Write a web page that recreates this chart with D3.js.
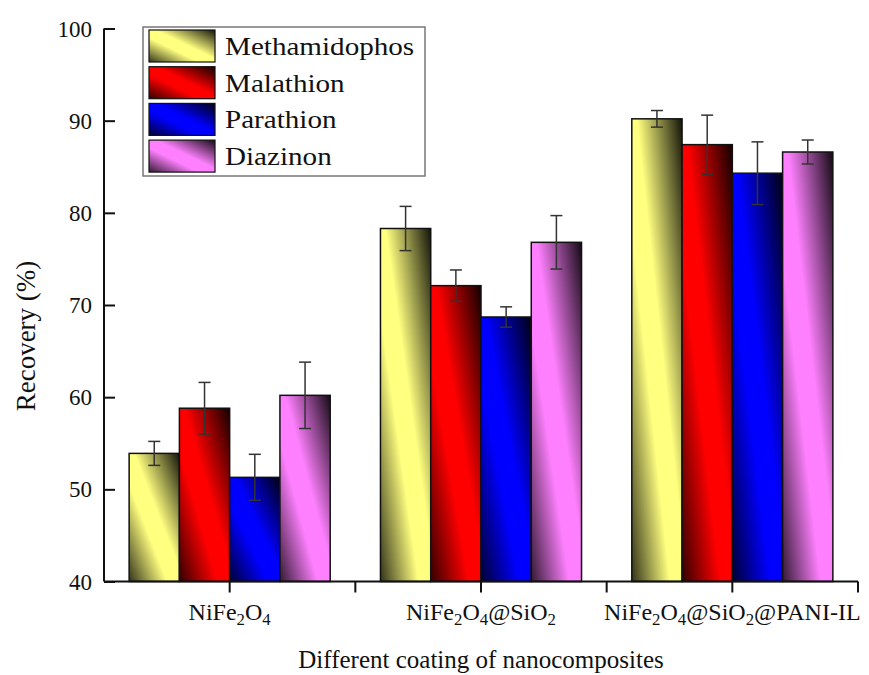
<!DOCTYPE html>
<html>
<head>
<meta charset="utf-8">
<script src="https://cdn.jsdelivr.net/npm/d3@7"></script>
<style>
  body { margin: 0; background: #fff; }
  text { font-family: "Liberation Serif", "Times New Roman", serif; fill: #111; }
</style>
</head>
<body>
<div id="chart"></div>
<script>
// categories use _n for a subscript digit
const categories = ['NiFe_2O_4', 'NiFe_2O_4@SiO_2', 'NiFe_2O_4@SiO_2@PANI-IL']
const seriesNames = ['Methamidophos', 'Malathion', 'Parathion', 'Diazinon']
const seriesColors = ['#FFFF80', '#FF0000', '#0000FF', '#FF80FF']

const methamidophos = [53.9, 78.3, 90.2]
const malathion = [58.8, 72.1, 87.4]
const parathion = [51.3, 68.7, 84.3]
const diazinon = [60.2, 76.8, 86.6]

const methamidophosErr = [1.3, 2.4, 0.9]
const malathionErr = [2.8, 1.7, 3.2]
const parathionErr = [2.5, 1.1, 3.4]
const diazinonErr = [3.6, 2.9, 1.3]

const yTicks = [40, 50, 60, 70, 80, 90, 100]

const values = [methamidophos, malathion, parathion, diazinon]
const errors = [methamidophosErr, malathionErr, parathionErr, diazinonErr]

let W = 869, H = 675
let margin = { left: 104, top: 28.5, right: 11, bottom: 93 }

let svg = d3.select('#chart').append('svg')
    .attr('width', W)
    .attr('height', H)

let defs = svg.append('defs')
seriesColors.forEach(function (c, i) {
    let g = defs.append('linearGradient')
        .attr('id', 'grad' + i)
        .attr('x1', 0).attr('y1', 1)
        .attr('x2', 1).attr('y2', 0)
    let mix = d3.interpolateRgb('#000000', c)
    g.append('stop').attr('offset', '0%').attr('stop-color', mix(0.2))
    g.append('stop').attr('offset', '38%').attr('stop-color', c)
    g.append('stop').attr('offset', '55%').attr('stop-color', c)
    g.append('stop').attr('offset', '100%').attr('stop-color', mix(0.08))
})

let x = d3.scaleBand()
    .domain(categories)
    .range([margin.left, W - margin.right])
    .paddingInner(0)
    .paddingOuter(0)

let xs = d3.scaleBand()
    .domain(d3.range(seriesNames.length))
    .range([0, x.bandwidth()])
    .paddingInner(0)
    .paddingOuter(0.5)

let y = d3.scaleLinear()
    .domain([40, 100])
    .range([H - margin.bottom - 0.5, margin.top])

// bars
let groups = svg.append('g')
    .selectAll('g')
    .data(categories)
    .enter().append('g')
    .attr('transform', function (d) { return 'translate(' + x(d) + ',0)' })

groups.each(function (cat, ci) {
    let g = d3.select(this)
    seriesNames.forEach(function (s, si) {
        let v = values[si][ci]
        g.append('rect')
            .attr('x', xs(si))
            .attr('y', y(v))
            .attr('width', xs.bandwidth())
            .attr('height', y(40) - y(v))
            .attr('fill', 'url(#grad' + si + ')')
            .attr('stroke', '#111')
            .attr('stroke-width', 1.5)
    })
})

// error bars
groups.each(function (cat, ci) {
    let g = d3.select(this)
    seriesNames.forEach(function (s, si) {
        let v = values[si][ci]
        let e = errors[si][ci]
        let cx = xs(si) + xs.bandwidth() / 2
        let eb = g.append('g')
            .attr('stroke', '#333')
            .attr('stroke-width', 1.5)
        eb.append('line')
            .attr('x1', cx).attr('x2', cx)
            .attr('y1', y(v + e)).attr('y2', y(v - e))
        eb.append('line')
            .attr('x1', cx - 6).attr('x2', cx + 6)
            .attr('y1', y(v + e)).attr('y2', y(v + e))
        eb.append('line')
            .attr('x1', cx - 6).attr('x2', cx + 6)
            .attr('y1', y(v - e)).attr('y2', y(v - e))
    })
})

// y axis (ticks inside)
let yAxis = d3.axisRight(y)
    .tickValues(yTicks)
    .tickSize(11)
    .tickFormat('')
let yg = svg.append('g')
    .attr('transform', 'translate(' + margin.left + ',0)')
    .call(yAxis)
yg.select('.domain').attr('stroke', '#111').attr('stroke-width', 2)
    .attr('d', 'M0,' + y(100) + 'V' + y(40))
yg.selectAll('.tick line').attr('stroke', '#111').attr('stroke-width', 2)

svg.append('g')
    .selectAll('text')
    .data(yTicks)
    .enter().append('text')
    .attr('x', margin.left - 12)
    .attr('y', function (d) { return y(d) })
    .attr('dy', '0.35em')
    .attr('text-anchor', 'end')
    .attr('font-size', 23)
    .text(function (d) { return d })

// x axis (ticks outside, at centres and between groups)
let xg = svg.append('g')
    .attr('transform', 'translate(0,' + y(40) + ')')
xg.append('line')
    .attr('x1', x.range()[0]).attr('x2', x.range()[1])
    .attr('stroke', '#111').attr('stroke-width', 2)
let xTickPos = []
categories.forEach(function (c) {
    xTickPos.push(x(c) + x.bandwidth() / 2)
    xTickPos.push(x(c) + x.bandwidth())
})
xg.selectAll('.xt')
    .data(xTickPos)
    .enter().append('line')
    .attr('class', 'xt')
    .attr('x1', function (d) { return d }).attr('x2', function (d) { return d })
    .attr('y1', 0).attr('y2', 11)
    .attr('stroke', '#111').attr('stroke-width', 2)

function subLabel (sel, label) {
    let parts = label.split(/_(\d)/)
    parts.forEach(function (p, i) {
        if (p === '') return
        if (i % 2 === 1) {
            sel.append('tspan').attr('font-size', '70%').attr('dy', 5).text(p)
        } else {
            sel.append('tspan').attr('dy', i > 0 ? -5 : 0).text(p)
        }
    })
}

xg.selectAll('.xl')
    .data(categories)
    .enter().append('text')
    .attr('class', 'xl')
    .attr('x', function (d) { return x(d) + x.bandwidth() / 2 })
    .attr('y', 38)
    .attr('text-anchor', 'middle')
    .attr('font-size', 24)
    .each(function (d) { subLabel(d3.select(this), d) })

// axis titles
svg.append('text')
    .attr('x', (x.range()[0] + x.range()[1]) / 2)
    .attr('y', 668)
    .attr('text-anchor', 'middle')
    .attr('font-size', 25)
    .text('Different coating of nanocomposites')

svg.append('text')
    .attr('transform', 'translate(35,' + 336 + ') rotate(-90)')
    .attr('text-anchor', 'middle')
    .attr('font-size', 27)
    .text('Recovery (%)')

// legend
let legend = svg.append('g').attr('transform', 'translate(143,27)')
legend.append('rect')
    .attr('width', 282).attr('height', 149)
    .attr('fill', '#fff')
    .attr('stroke', '#777')
    .attr('stroke-width', 1.5)
seriesNames.forEach(function (s, i) {
    let row = legend.append('g').attr('transform', 'translate(6,' + (3 + i * 36.7) + ')')
    row.append('rect')
        .attr('width', 66).attr('height', 32)
        .attr('fill', 'url(#grad' + i + ')')
        .attr('stroke', '#111')
        .attr('stroke-width', 1.2)
    row.append('text')
        .attr('transform', 'translate(76,25) scale(1.12,1)')
        .attr('font-size', 26)
        .text(s)
})
</script>
</body>
</html>
